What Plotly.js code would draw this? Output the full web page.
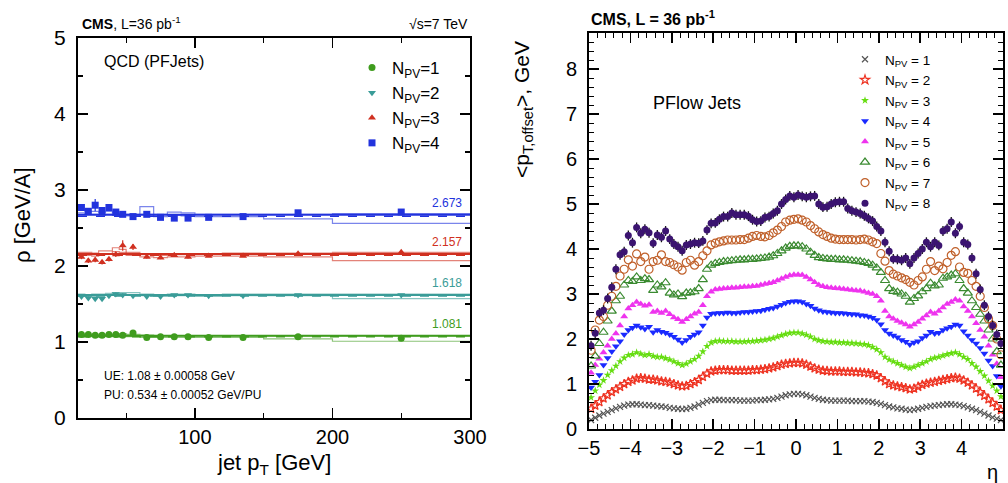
<!DOCTYPE html>
<html>
<head>
<meta charset="utf-8">
<script src="https://cdn.plot.ly/plotly-3.0.1.min.js"></script>
<style>html,body{margin:0;padding:0;background:#fff;}#chart{width:1008px;height:483px;}</style>
</head>
<body>
<div id="chart"></div>
<script>
// ---------- Left panel: rho vs jet pT ----------
const ptEdges   = [15,20,25,30,35,40,45,50,60,70,80,90,100,120,150,200,300];
const ptCenters = [17.5,22.5,27.5,32.5,37.5,42.5,47.5,55,65,75,85,95,110,135,175,250];

const rhoNPV1 = [1.10,1.10,1.09,1.09,1.10,1.10,1.09,1.12,1.06,1.07,1.07,1.07,1.06,1.06,1.07,1.05];
const rhoNPV2 = [1.60,1.58,1.57,1.57,1.61,1.63,1.62,1.61,1.60,1.60,1.62,1.62,1.61,1.61,1.62,1.62];
const rhoNPV3 = [2.12,2.07,2.08,2.05,2.09,2.15,2.27,2.25,2.12,2.11,2.14,2.12,2.13,2.13,2.16,2.18];
const rhoNPV4 = [2.77,2.72,2.80,2.73,2.77,2.71,2.68,2.65,2.68,2.64,2.63,2.63,2.64,2.65,2.70,2.71];

const errNPV1 = [0.01,0.01,0.01,0.01,0.01,0.01,0.01,0.02,0.01,0.01,0.01,0.01,0.01,0.01,0.01,0.01];
const errNPV2 = [0.02,0.02,0.02,0.02,0.02,0.02,0.02,0.02,0.01,0.01,0.01,0.01,0.01,0.01,0.01,0.01];
const errNPV3 = [0.03,0.03,0.03,0.03,0.03,0.03,0.07,0.04,0.02,0.02,0.02,0.02,0.01,0.01,0.01,0.01];
const errNPV4 = [0.04,0.04,0.08,0.04,0.04,0.03,0.03,0.03,0.03,0.02,0.02,0.02,0.02,0.01,0.02,0.02];

const mcHiNPV1 = [1.10,1.10,1.10,1.10,1.10,1.10,1.11,1.10,1.09,1.08,1.08,1.08,1.08,1.08,1.08,1.08];
const mcLoNPV1 = [1.07,1.07,1.07,1.07,1.07,1.07,1.08,1.07,1.06,1.06,1.06,1.06,1.06,1.06,1.04,1.01];
const mcHiNPV2 = [1.63,1.62,1.63,1.63,1.64,1.65,1.65,1.65,1.63,1.62,1.63,1.63,1.62,1.63,1.63,1.63];
const mcLoNPV2 = [1.60,1.60,1.60,1.61,1.62,1.63,1.63,1.62,1.61,1.60,1.61,1.61,1.60,1.61,1.61,1.57];
const mcHiNPV3 = [2.18,2.18,2.17,2.20,2.20,2.24,2.22,2.18,2.15,2.14,2.15,2.15,2.16,2.17,2.17,2.18];
const mcLoNPV3 = [2.14,2.14,2.13,2.15,2.16,2.19,2.18,2.14,2.12,2.11,2.12,2.12,2.13,2.13,2.12,2.07];
const mcHiNPV4 = [2.74,2.72,2.72,2.71,2.72,2.70,2.68,2.68,2.78,2.68,2.71,2.70,2.68,2.68,2.68,2.69];
const mcLoNPV4 = [2.70,2.68,2.68,2.67,2.68,2.67,2.66,2.66,2.68,2.65,2.67,2.66,2.65,2.65,2.62,2.56];

const fitValues   = [1.081,1.618,2.157,2.673];
const mcFitValues = [1.068,1.605,2.142,2.655];
const fitLabels   = ['1.081','1.618','2.157','2.673'];

// ---------- Right panel: offset pT vs eta ----------
const etaCenters = [
-4.95,-4.85,-4.75,-4.65,-4.55,-4.45,-4.35,-4.25,-4.15,-4.05,
-3.95,-3.85,-3.75,-3.65,-3.55,-3.45,-3.35,-3.25,-3.15,-3.05,
-2.95,-2.85,-2.75,-2.65,-2.55,-2.45,-2.35,-2.25,-2.15,-2.05,
-1.95,-1.85,-1.75,-1.65,-1.55,-1.45,-1.35,-1.25,-1.15,-1.05,
-0.95,-0.85,-0.75,-0.65,-0.55,-0.45,-0.35,-0.25,-0.15,-0.05,
0.05,0.15,0.25,0.35,0.45,0.55,0.65,0.75,0.85,0.95,
1.05,1.15,1.25,1.35,1.45,1.55,1.65,1.75,1.85,1.95,
2.05,2.15,2.25,2.35,2.45,2.55,2.65,2.75,2.85,2.95,
3.05,3.15,3.25,3.35,3.45,3.55,3.65,3.75,3.85,3.95,
4.05,4.15,4.25,4.35,4.45,4.55,4.65,4.75,4.85,4.95];

const offsetNPV1 = [
0.20,0.25,0.30,0.34,0.38,0.42,0.46,0.49,0.52,0.54,
0.55,0.55,0.54,0.53,0.53,0.52,0.51,0.50,0.49,0.47,
0.46,0.45,0.44,0.45,0.47,0.50,0.54,0.58,0.62,0.64,
0.65,0.65,0.64,0.64,0.64,0.64,0.63,0.63,0.63,0.63,
0.64,0.64,0.65,0.66,0.67,0.69,0.72,0.75,0.77,0.78,
0.78,0.77,0.75,0.72,0.69,0.67,0.65,0.64,0.63,0.63,
0.63,0.63,0.63,0.62,0.62,0.62,0.62,0.61,0.60,0.58,
0.56,0.53,0.50,0.48,0.46,0.45,0.43,0.42,0.43,0.45,
0.47,0.49,0.51,0.52,0.53,0.54,0.55,0.55,0.54,0.53,
0.51,0.48,0.45,0.42,0.38,0.34,0.30,0.26,0.23,0.20];

const offsetNPV2 = [
0.45,0.52,0.60,0.68,0.75,0.82,0.88,0.94,1.00,1.05,
1.08,1.12,1.13,1.12,1.10,1.10,1.08,1.06,1.05,1.03,
1.00,0.97,0.95,0.96,1.00,1.04,1.09,1.16,1.23,1.28,
1.30,1.31,1.31,1.31,1.30,1.30,1.30,1.30,1.30,1.31,
1.31,1.32,1.33,1.35,1.37,1.40,1.43,1.45,1.46,1.47,
1.47,1.46,1.43,1.39,1.35,1.32,1.30,1.29,1.28,1.28,
1.28,1.27,1.27,1.27,1.26,1.26,1.25,1.24,1.22,1.19,
1.13,1.06,1.00,0.97,0.95,0.93,0.91,0.88,0.90,0.94,
0.98,1.01,1.03,1.05,1.07,1.09,1.11,1.13,1.14,1.12,
1.08,1.03,0.97,0.90,0.82,0.74,0.66,0.58,0.50,0.42];

const offsetNPV3 = [
0.70,0.85,0.98,1.08,1.20,1.30,1.40,1.50,1.58,1.64,
1.66,1.70,1.67,1.64,1.66,1.62,1.60,1.60,1.57,1.54,
1.50,1.46,1.42,1.45,1.50,1.55,1.62,1.72,1.84,1.92,
1.95,1.96,1.95,1.95,1.95,1.94,1.94,1.94,1.95,1.95,
1.96,1.97,1.98,2.00,2.02,2.05,2.08,2.11,2.13,2.14,
2.14,2.12,2.09,2.05,2.00,1.97,1.95,1.94,1.93,1.93,
1.92,1.92,1.91,1.91,1.90,1.89,1.88,1.86,1.82,1.77,
1.70,1.60,1.54,1.50,1.46,1.42,1.38,1.35,1.38,1.42,
1.46,1.50,1.55,1.58,1.60,1.63,1.66,1.68,1.70,1.66,
1.60,1.55,1.46,1.38,1.28,1.18,1.07,0.96,0.85,0.72];

const offsetNPV4 = [
0.92,1.05,1.20,1.42,1.58,1.72,1.84,1.95,2.10,2.20,
2.25,2.30,2.26,2.22,2.27,2.15,2.20,2.16,2.14,2.10,
2.05,1.99,1.92,1.98,2.05,2.10,2.15,2.30,2.48,2.56,
2.57,2.58,2.58,2.59,2.58,2.58,2.59,2.60,2.60,2.61,
2.62,2.63,2.65,2.67,2.69,2.72,2.76,2.80,2.83,2.84,
2.84,2.82,2.78,2.74,2.68,2.64,2.61,2.60,2.59,2.58,
2.58,2.57,2.56,2.55,2.55,2.53,2.52,2.50,2.47,2.42,
2.33,2.20,2.12,2.08,2.04,1.98,1.94,1.88,1.92,1.95,
2.02,2.08,2.16,2.12,2.14,2.20,2.24,2.27,2.32,2.30,
2.17,2.08,1.98,1.90,1.80,1.68,1.52,1.40,1.18,0.95];

const offsetNPV5 = [
1.25,1.42,1.56,1.70,1.85,2.00,2.12,2.30,2.50,2.68,
2.75,2.82,2.78,2.74,2.76,2.60,2.62,2.58,2.62,2.55,
2.48,2.44,2.38,2.44,2.50,2.56,2.60,2.75,2.95,3.05,
3.10,3.11,3.12,3.13,3.14,3.14,3.15,3.16,3.16,3.17,
3.18,3.20,3.22,3.24,3.26,3.30,3.34,3.38,3.41,3.43,
3.43,3.42,3.38,3.32,3.26,3.20,3.17,3.15,3.14,3.13,
3.12,3.11,3.10,3.09,3.08,3.07,3.05,3.02,3.00,2.95,
2.85,2.62,2.50,2.45,2.40,2.36,2.32,2.27,2.32,2.38,
2.45,2.52,2.60,2.56,2.62,2.70,2.78,2.82,2.88,2.85,
2.72,2.62,2.50,2.35,2.20,2.05,1.85,1.65,1.45,1.15];

const offsetNPV6 = [
1.40,1.62,1.90,2.15,2.40,2.62,2.85,2.95,3.20,3.30,
3.28,3.38,3.30,3.34,3.32,3.08,3.20,3.16,3.25,3.02,
2.98,3.00,2.94,3.02,3.03,3.05,3.12,3.32,3.55,3.64,
3.68,3.70,3.72,3.73,3.74,3.75,3.76,3.76,3.77,3.77,
3.78,3.79,3.80,3.82,3.85,3.90,3.96,4.02,4.06,4.07,
4.07,4.05,4.00,3.93,3.86,3.81,3.79,3.78,3.77,3.77,
3.76,3.76,3.75,3.74,3.73,3.72,3.70,3.68,3.64,3.58,
3.48,3.30,3.12,3.06,3.04,3.00,2.95,2.82,2.90,2.96,
3.05,3.12,3.24,3.18,3.20,3.35,3.38,3.42,3.45,3.30,
3.12,3.02,2.85,2.70,2.55,2.40,2.20,2.00,1.72,1.42];

const offsetNPV7 = [
1.75,2.20,2.42,2.50,2.75,2.95,3.17,3.40,3.55,3.76,
3.62,3.89,3.72,3.82,3.55,3.72,3.75,3.87,3.72,3.70,
3.65,3.60,3.53,3.70,3.75,3.64,3.72,3.85,3.96,4.09,
4.13,4.16,4.18,4.20,4.20,4.20,4.21,4.21,4.24,4.28,
4.30,4.28,4.27,4.30,4.36,4.42,4.50,4.60,4.64,4.66,
4.67,4.64,4.60,4.52,4.45,4.38,4.32,4.28,4.24,4.22,
4.21,4.21,4.21,4.21,4.20,4.21,4.22,4.20,4.16,4.12,
3.90,3.73,3.52,3.44,3.40,3.36,3.32,3.26,3.20,3.30,
3.38,3.55,3.72,3.52,3.62,3.56,3.70,3.86,3.94,3.60,
3.48,3.46,3.30,3.17,2.95,2.70,2.45,2.30,2.00,1.65];

const offsetNPV8 = [
1.85,2.13,2.58,2.64,2.90,3.15,3.55,3.87,3.94,4.30,
4.14,4.48,4.35,4.44,4.36,4.13,4.31,4.26,4.40,4.22,
4.11,4.05,3.96,4.09,4.11,4.14,4.13,4.18,4.42,4.57,
4.58,4.66,4.72,4.72,4.80,4.76,4.76,4.76,4.73,4.65,
4.61,4.62,4.70,4.72,4.79,4.85,5.00,5.10,5.18,5.15,
5.20,5.17,5.15,5.17,5.18,5.00,4.93,4.94,5.00,5.04,
5.05,5.05,4.90,4.85,4.82,4.79,4.74,4.68,4.62,4.50,
4.40,4.15,3.95,3.78,3.77,3.75,3.80,3.67,3.80,3.90,
4.00,4.15,4.05,4.15,4.08,4.40,4.45,4.60,4.35,4.50,
4.15,4.10,3.80,3.45,3.10,2.75,2.50,2.30,2.10,1.90];

const leftNames  = ['N<sub>PV</sub>=1','N<sub>PV</sub>=2','N<sub>PV</sub>=3','N<sub>PV</sub>=4'];
const rightNames = ['N<sub>PV</sub> = 1','N<sub>PV</sub> = 2','N<sub>PV</sub> = 3','N<sub>PV</sub> = 4',
                    'N<sub>PV</sub> = 5','N<sub>PV</sub> = 6','N<sub>PV</sub> = 7','N<sub>PV</sub> = 8'];

// ---------- styles ----------
const leftColors = ['#3f9c1e','#3a9c98','#d03020','#2233dd'];
const leftMcColors = ['rgba(63,156,30,0.6)','rgba(58,156,152,0.6)','rgba(208,48,32,0.6)','rgba(34,51,221,0.6)'];
const leftSymbols = ['circle','triangle-down','triangle-up','square'];

const rightStyles = [
  {symbol:'x-thin-open', color:'#555555', size:6, open:true},
  {symbol:'star-open', color:'#ee3322', size:7, open:true},
  {symbol:'star', color:'#66dd11', size:6, open:false},
  {symbol:'triangle-down', color:'#1a2aff', size:7, open:false},
  {symbol:'triangle-up', color:'#ee33ee', size:7, open:false},
  {symbol:'triangle-up-open', color:'#3a8a30', size:8, open:true},
  {symbol:'circle-open', color:'#c0602a', size:8, open:true},
  {symbol:'circle', color:'#3b1470', size:7, open:false}
];

const rhoData = [rhoNPV1,rhoNPV2,rhoNPV3,rhoNPV4];
const rhoErr  = [errNPV1,errNPV2,errNPV3,errNPV4];
const mcHi = [mcHiNPV1,mcHiNPV2,mcHiNPV3,mcHiNPV4];
const mcLo = [mcLoNPV1,mcLoNPV2,mcLoNPV3,mcLoNPV4];
const offsetData = [offsetNPV1,offsetNPV2,offsetNPV3,offsetNPV4,offsetNPV5,offsetNPV6,offsetNPV7,offsetNPV8];

const traces = [];
const ptMin = ptEdges[0], ptMax = ptEdges[ptEdges.length-1];
const stepY = (arr) => arr.concat([arr[arr.length-1]]);

for (let i = 0; i < 4; i++) {
  traces.push({x: ptEdges, y: stepY(mcHi[i]), xaxis:'x', yaxis:'y', mode:'lines',
    line:{shape:'hv', color:leftMcColors[i], width:1.2}, showlegend:false, hoverinfo:'skip'});
  traces.push({x: ptEdges, y: stepY(mcLo[i]), xaxis:'x', yaxis:'y', mode:'lines',
    line:{shape:'hv', color:leftMcColors[i], width:1.2}, showlegend:false, hoverinfo:'skip'});
  traces.push({x: [ptMin, ptMax], y: [mcFitValues[i], mcFitValues[i]], xaxis:'x', yaxis:'y', mode:'lines',
    line:{color:leftColors[i], width:1.5, dash:'dash'}, showlegend:false, hoverinfo:'skip'});
  traces.push({x: [ptMin, ptMax], y: [fitValues[i], fitValues[i]], xaxis:'x', yaxis:'y', mode:'lines',
    line:{color:leftColors[i], width:2}, showlegend:false, hoverinfo:'skip'});
}
for (let i = 0; i < 4; i++) {
  traces.push({x: ptCenters, y: rhoData[i], xaxis:'x', yaxis:'y', mode:'markers', name: leftNames[i],
    legend:'legend',
    marker:{symbol:leftSymbols[i], color:leftColors[i], size:7},
    error_y:{type:'data', array:rhoErr[i], color:leftColors[i], thickness:1.2, width:0}});
}
for (let i = 0; i < 8; i++) {
  const s = rightStyles[i];
  const tr = {x: etaCenters, y: offsetData[i], xaxis:'x2', yaxis:'y2', mode:'markers', name: rightNames[i],
    legend:'legend2',
    marker:{symbol:s.symbol, color:s.color, size:s.size, line:{color:s.color, width: s.open ? 1.2 : 0}}};
  if (i === 7) tr.error_y = {type:'constant', value:0.11, color:'#111', thickness:1.3, width:0};
  traces.push(tr);
}

const F = 'Liberation Sans, Arial, Helvetica, sans-serif';
const axBase = {showline:true, linecolor:'#000', linewidth:2, mirror:'ticks', ticks:'inside',
  tickcolor:'#000', tickwidth:1.5, ticklen:10, showgrid:false, zeroline:false,
  tickfont:{family:F, size:21, color:'#000'}};

const W = 1008, H = 483;
const px = (v) => v / W, py = (v) => 1 - v / H;

const annotations = [
  {xref:'paper', yref:'paper', x:px(80), y:py(34), xanchor:'left', yanchor:'bottom', showarrow:false,
   text:'<b>CMS</b>, L=36 pb<sup>-1</sup>', font:{family:F, size:14, color:'#000'}},
  {xref:'paper', yref:'paper', x:px(470), y:py(34), xanchor:'right', yanchor:'bottom', showarrow:false,
   text:'√s=7 TeV', font:{family:F, size:14, color:'#000'}},
  {xref:'paper', yref:'paper', x:px(102), y:py(62), xanchor:'left', yanchor:'middle', showarrow:false,
   text:'QCD (PFJets)', font:{family:F, size:16, color:'#000'}},
  {xref:'paper', yref:'paper', x:px(102), y:py(376), xanchor:'left', yanchor:'middle', showarrow:false,
   text:'UE: 1.08 ± 0.00058 GeV', font:{family:F, size:12, color:'#000'}},
  {xref:'paper', yref:'paper', x:px(102), y:py(395), xanchor:'left', yanchor:'middle', showarrow:false,
   text:'PU: 0.534 ± 0.00052 GeV/PU', font:{family:F, size:12, color:'#000'}},
  {xref:'paper', yref:'paper', x:px(274), y:py(464), xanchor:'center', yanchor:'middle', showarrow:false,
   text:'jet p<sub>T</sub> [GeV]', font:{family:F, size:22, color:'#000'}},
  {xref:'paper', yref:'paper', x:px(22), y:py(215), xanchor:'center', yanchor:'middle', showarrow:false,
   textangle:-90, text:'ρ [GeV/A]', font:{family:F, size:22, color:'#000'}},
  {xref:'paper', yref:'paper', x:px(589), y:py(30), xanchor:'left', yanchor:'bottom', showarrow:false,
   text:'<b>CMS, L = 36 pb<sup>-1</sup></b>', font:{family:F, size:16, color:'#000'}},
  {xref:'paper', yref:'paper', x:px(651), y:py(103), xanchor:'left', yanchor:'middle', showarrow:false,
   text:'PFlow Jets', font:{family:F, size:18, color:'#000'}},
  {xref:'paper', yref:'paper', x:px(523), y:py(110), xanchor:'center', yanchor:'middle', showarrow:false,
   textangle:-90, text:'&lt;p<sub>T,offset</sub>&gt;, GeV', font:{family:F, size:21, color:'#000'}},
  {xref:'paper', yref:'paper', x:px(1000), y:py(472), xanchor:'right', yanchor:'middle', showarrow:false,
   text:'η', font:{family:F, size:20, color:'#000'}}
];
for (let i = 0; i < 4; i++) {
  annotations.push({xref:'x', yref:'y', x:ptMax, y:fitValues[i], xanchor:'right', yanchor:'bottom',
    yshift:3, xshift:-6, showarrow:false, text:fitLabels[i], font:{family:F, size:12, color:leftColors[i]}});
}

const layout = {
  width:W, height:H, margin:{l:0, r:0, t:0, b:0}, paper_bgcolor:'#fff', plot_bgcolor:'#fff',
  font:{family:F, color:'#000'},
  xaxis: Object.assign({}, axBase, {domain:[px(78), px(470)], range:[15,300], tick0:0, dtick:100, anchor:'y',
    tickfont:{family:F, size:20, color:'#000'},
    minor:{dtick:50, ticks:'inside', ticklen:5, tickcolor:'#000', tickwidth:1.2}}),
  yaxis: Object.assign({}, axBase, {domain:[py(418), py(38)], range:[0,5], dtick:1, anchor:'x', ticklabelstandoff:6,
    minor:{dtick:0.5, ticks:'inside', ticklen:5, tickcolor:'#000', tickwidth:1.2}}),
  xaxis2: Object.assign({}, axBase, {domain:[px(589), px(1003)], range:[-5,5], dtick:1, anchor:'y2',
    tickfont:{family:F, size:20, color:'#000'},
    minor:{dtick:0.2, ticks:'inside', ticklen:5, tickcolor:'#000', tickwidth:1}}),
  yaxis2: Object.assign({}, axBase, {domain:[py(429), py(33)], range:[0,8.8], dtick:1, anchor:'x2', ticklabelstandoff:6,
    tickfont:{family:F, size:20, color:'#000'},
    minor:{dtick:0.2, ticks:'inside', ticklen:5, tickcolor:'#000', tickwidth:1}}),
  legend: {x:px(352), y:py(50), xanchor:'left', yanchor:'top', bgcolor:'rgba(255,255,255,0)',
    font:{family:F, size:17, color:'#000'}, itemwidth:30, borderwidth:0},
  legend2: {x:px(845), y:py(44), xanchor:'left', yanchor:'top', bgcolor:'rgba(255,255,255,0)',
    font:{family:F, size:13.5, color:'#000'}, itemwidth:30, borderwidth:0},
  annotations: annotations,
  showlegend: true
};

Plotly.newPlot('chart', traces, layout, {staticPlot:true, displayModeBar:false});
</script>
</body>
</html>
